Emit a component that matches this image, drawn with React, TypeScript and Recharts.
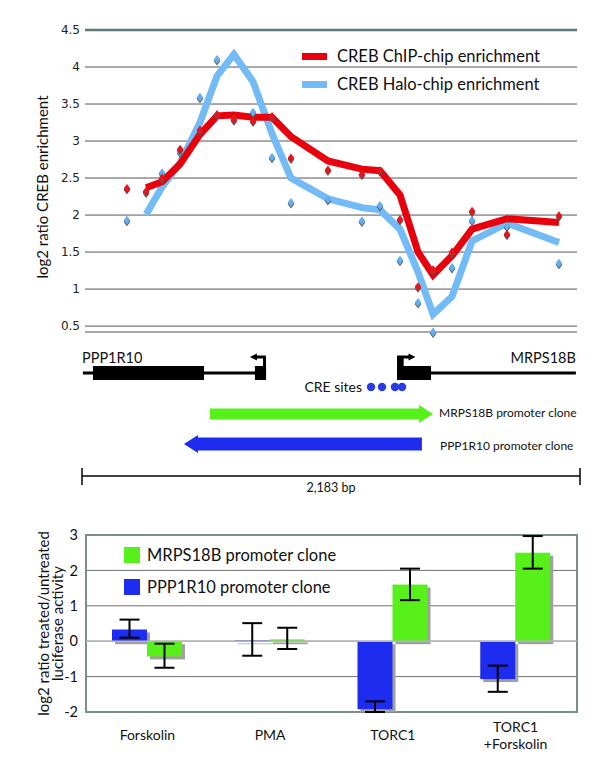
import React from 'react';
import {
  ComposedChart, BarChart, Bar, Line, Scatter, XAxis, YAxis, CartesianGrid,
  Legend, ReferenceLine, ReferenceArea, ReferenceDot, ErrorBar
} from 'recharts';

const FONT = 'Lato, "Noto Sans", sans-serif';

// ---- top panel: tiling enrichment along the locus (bp from left end of scale bar)
const probeBp = [197, 281, 351, 430, 517, 592, 666, 750, 833, 916, 1078, 1227, 1306, 1394, 1473, 1539, 1622, 1710, 1863, 2091];
const chipLine = [null, 2.37, 2.45, 2.69, 3.09, 3.34, 3.35, 3.32, 3.32, 3.06, 2.73, 2.62, 2.6, 2.27, 1.5, 1.19, 1.45, 1.81, 1.95, 1.9];
const haloLine = [null, 2.01, 2.38, 2.7, 3.25, 3.88, 4.17, 3.8, 3.1, 2.5, 2.22, 2.1, 2.07, 1.81, 1.23, 0.66, 0.9, 1.65, 1.89, 1.63];
const chipPts = [2.36, 2.32, 2.5, 2.89, 3.15, 3.36, 3.29, 3.27, 3.33, 2.77, 2.61, 2.55, 2.6, 1.94, 1.03, 1.26, 1.5, 2.05, 1.74, 1.99];
const haloPts = [1.93, 2.31, 2.57, 2.85, 3.59, 4.1, 3.29, 3.39, 2.78, 2.17, 2.21, 1.92, 2.13, 1.39, 0.82, 0.42, 1.29, 1.93, 1.85, 1.35];
const enrichTicks = [0.5, 1, 1.5, 2, 2.5, 3, 3.5, 4, 4.5];

// ---- gene diagram (bp)
const locusLength = 2183;
const exons = [[48, 535], [758, 807], [1381, 1530]];
const introns = [[4, 802], [1530, 2165]];
const creSites = [1267, 1315, 1372, 1403];
const mrpsClone = [561, 1539];
const pppClone = [447, 1490];

// ---- bottom panel: luciferase
const treatments = ['Forskolin', 'PMA', 'TORC1', 'TORC1\n+Forskolin'];
const pppValues = [0.33, 0.02, -1.92, -1.07];
const pppErr = [[0.23, 0.28], [0.43, 0.49], [0.08, 0.22], [0.36, 0.38]];
const mrpsValues = [-0.43, 0.05, 1.6, 2.5];
const mrpsErr = [[0.32, 0.36], [0.27, 0.33], [0.44, 0.45], [0.45, 0.47]];
const lucTicks = [-2, -1, 0, 1, 2, 3];

const RED = '#e8000c';
const SKY = '#72bbf6';
const GREEN = '#58f01a';
const BLUE = '#1e2cf0';

const enrichData = probeBp.map((bp, i) => ({
  bp, chip: chipLine[i], halo: haloLine[i], chipPt: chipPts[i], haloPt: haloPts[i],
}));
const lucData = treatments.map((t, i) => ({
  name: t, ppp: pppValues[i], pppErr: pppErr[i], mrps: mrpsValues[i], mrpsErr: mrpsErr[i],
}));
const creData = creSites.map(bp => ({ bp, row: 42 }));

const diamond = (color: string) => (p: any) => {
  const { cx, cy } = p;
  if (cx == null || cy == null) return <g />;
  const d = (dx: number, dy: number) =>
    `M${cx + dx},${cy + dy - 4.5} L${cx + dx + 3.3},${cy + dy} L${cx + dx},${cy + dy + 4.5} L${cx + dx - 3.3},${cy + dy} Z`;
  return (
    <g>
      <path d={d(0, 1.5)} fill="#5a5a5a" />
      <path d={d(0, 0)} fill={color} />
    </g>
  );
};

const arrowShape = (dir: 'left' | 'right', head: number, body: number) => (p: any) => {
  const { x, y, width, height, fill } = p;
  const cy = y + height / 2;
  const b = body / 2;
  let pts;
  if (dir === 'right') {
    const hx = x + width - head;
    pts = `${x},${cy - b} ${hx},${cy - b} ${hx},${y} ${x + width},${cy} ${hx},${y + height} ${hx},${cy + b} ${x},${cy + b}`;
  } else {
    const hx = x + head;
    pts = `${x + width},${cy - b} ${hx},${cy - b} ${hx},${y} ${x},${cy} ${hx},${y + height} ${hx},${cy + b} ${x + width},${cy + b}`;
  }
  return <polygon points={pts} fill={fill} />;
};

const ShadowBar = (p: any) => {
  const { x, y, width, height, fill } = p;
  const top = height < 0 ? y + height : y;
  const h = Math.abs(height);
  return (
    <g>
      <rect x={x + 3} y={top + 3} width={width} height={h} fill="#a0a0a0" />
      <rect x={x} y={top} width={width} height={h} fill={fill} />
    </g>
  );
};

// rotated axis title, one or more lines
const VTitle = ({ viewBox, lines, dx, dy, size, gap = 13 }: any) => {
  const cy = viewBox.y + viewBox.height / 2 + dy;
  return (
    <g>
      {lines.map((t: string, i: number) => {
        const cx = viewBox.x + dx + i * gap;
        return (
          <text key={i} x={cx} y={cy} transform={`rotate(-90 ${cx} ${cy})`} textAnchor="middle"
            dominantBaseline="central" fontFamily={FONT} fontSize={size} fill="#111">{t}</text>
        );
      })}
    </g>
  );
};

const CatTick = ({ x, y, payload }: any) => {
  const lines = String(payload.value).split('\n');
  return (
    <g>
      {lines.map((t, i) => (
        <text key={i} x={x} y={lines.length > 1 ? y + 20 + i * 17 : y + 28} textAnchor="middle"
          fontFamily={FONT} fontSize={14} fill="#111">{t}</text>
      ))}
    </g>
  );
};

const LineLegend = ({ payload }: any) => (
  <div style={{ fontFamily: FONT, fontSize: 16.5, color: '#111' }}>
    {(payload || []).filter((e: any) => e.type !== 'none').map((e: any) => (
      <div key={e.value} style={{ display: 'flex', alignItems: 'center', height: 28 }}>
        <span style={{ display: 'inline-block', width: 25, height: 7, background: e.color, marginRight: 10 }} />
        {e.value}
      </div>
    ))}
  </div>
);

const BarLegend = ({ payload }: any) => (
  <div style={{ fontFamily: FONT, fontSize: 16.5, color: '#111' }}>
    {(payload || []).map((e: any) => (
      <div key={e.value} style={{ display: 'flex', alignItems: 'center', height: 32 }}>
        <span style={{ display: 'inline-block', width: 16, height: 16, background: e.color, marginRight: 7 }} />
        {e.value}
      </div>
    ))}
  </div>
);

const geneLabel = (value: string, position: any, size: number) => ({
  value, position, offset: 0, fontFamily: FONT, fontSize: size, fill: '#111',
});

export default function App() {
  return (
    <div style={{ position: 'absolute', left: 0, top: 0, width: 600, height: 773, background: '#fff' }}>
      {/* enrichment profile */}
      <div style={{ position: 'absolute', left: 0, top: 0 }}>
        <ComposedChart width={600} height={345} data={enrichData}
          margin={{ top: 30, right: 23, bottom: 13, left: 35 }}>
          <CartesianGrid vertical={false} stroke="#555" />
          <XAxis type="number" dataKey="bp" domain={[13, 2170]} hide />
          <YAxis domain={[0.5, 4.5]} ticks={enrichTicks} width={50} axisLine={false} tickLine={false}
            tickSize={0} tickMargin={5} interval={0}
            tick={{ fontFamily: 'DejaVu Sans', fontSize: 12, fill: '#222' }}
            label={{ content: (p: any) => <VTitle viewBox={p.viewBox} lines={['log2 ratio CREB enrichment']} dx={7} dy={6} size={15} /> }} />
          <ReferenceLine y={4.5} stroke="#5f7777" strokeWidth={2.5} />
          <Line dataKey="halo" name="CREB Halo-chip enrichment" stroke={SKY} strokeWidth={7} dot={false}
            type="linear" isAnimationActive={false} />
          <Line dataKey="chip" name="CREB ChIP-chip enrichment" stroke={RED} strokeWidth={7} dot={false}
            type="linear" isAnimationActive={false} />
          <Scatter dataKey="haloPt" legendType="none" shape={diamond('#62aef0')} isAnimationActive={false} />
          <Scatter dataKey="chipPt" legendType="none" shape={diamond('#e6141c')} isAnimationActive={false} />
          <Legend layout="vertical" align="center" verticalAlign="middle"
            wrapperStyle={{ left: 302, top: 42, width: 280 }}
            content={(p: any) => <LineLegend payload={p.payload} />} />
        </ComposedChart>
      </div>

      {/* gene structure */}
      <div style={{ position: 'absolute', left: 0, top: 345 }}>
        <ComposedChart width={600} height={160} data={creData}
          margin={{ top: 0, right: 20, bottom: 0, left: 82 }}>
          <XAxis type="number" dataKey="bp" domain={[0, locusLength]} hide />
          <YAxis type="number" dataKey="row" domain={[0, 160]} reversed hide />
          {introns.map(([a, b]) => (
            <ReferenceLine key={a} segment={[{ x: a, y: 28 }, { x: b, y: 28 }]} stroke="#000" strokeWidth={3} />
          ))}
          {exons.map(([a, b]) => (
            <ReferenceArea key={a} x1={a} x2={b} y1={21} y2={35} fill="#000" fillOpacity={1} />
          ))}
          <ReferenceArea x1={1381} x2={1410} y1={11} y2={35} fill="#000" fillOpacity={1} />
          <ReferenceLine segment={[{ x: 800, y: 21 }, { x: 800, y: 12 }]} stroke="#000" strokeWidth={3} />
          <ReferenceArea x1={736} x2={806} y1={8.5} y2={15.5} fill="#000" fillOpacity={1}
            shape={arrowShape('left', 7, 3)} />
          <ReferenceArea x1={1381} x2={1462} y1={8.5} y2={15.5} fill="#000" fillOpacity={1}
            shape={arrowShape('right', 7, 3)} />
          <ReferenceDot x={0} y={13} r={0} label={geneLabel('PPP1R10', 'right', 14.5)} />
          <ReferenceDot x={2165} y={13} r={0} label={geneLabel('MRPS18B', 'left', 14.5)} />
          <Scatter dataKey="row" fill="#2a3ce6" shape={(p: any) => <circle cx={p.cx} cy={p.cy} r={4.2} fill="#2a3ce6" />}
            isAnimationActive={false} />
          <ReferenceDot x={creSites[0]} y={42} r={0} label={{ ...geneLabel('CRE sites', 'left', 14), offset: 9 }} />
          <ReferenceArea x1={mrpsClone[0]} x2={mrpsClone[1]} y1={60} y2={78} fill={GREEN} fillOpacity={1}
            shape={arrowShape('right', 14, 11)} />
          <ReferenceDot x={1565} y={68} r={0} label={geneLabel('MRPS18B promoter clone', 'right', 12)} />
          <ReferenceArea x1={pppClone[0]} x2={pppClone[1]} y1={90} y2={108} fill={BLUE} fillOpacity={1}
            shape={arrowShape('left', 14, 13)} />
          <ReferenceDot x={1569} y={101} r={0} label={geneLabel('PPP1R10 promoter clone', 'right', 12)} />
          <ReferenceLine segment={[{ x: 0, y: 131 }, { x: locusLength, y: 131 }]} stroke="#000" strokeWidth={1.5} />
          <ReferenceLine segment={[{ x: 0, y: 123 }, { x: 0, y: 140 }]} stroke="#000" strokeWidth={1.5} />
          <ReferenceLine segment={[{ x: locusLength, y: 123 }, { x: locusLength, y: 140 }]} stroke="#000" strokeWidth={1.5} />
          <ReferenceDot x={locusLength / 2} y={143} r={0} label={geneLabel('2,183 bp', 'center', 12.5)} />
        </ComposedChart>
      </div>

      {/* luciferase assay */}
      <div style={{ position: 'absolute', left: 0, top: 505 }}>
        <BarChart width={600} height={268} data={lucData} barSize={35} barGap={0}
          margin={{ top: 30, right: 23, bottom: 21, left: 46 }}>
          <CartesianGrid vertical={false} stroke="#707070" />
          <XAxis dataKey="name" height={40} axisLine={false} tickLine={false} tickSize={0} tickMargin={0}
            interval={0} tick={<CatTick />} />
          <YAxis domain={[-2, 3]} ticks={lucTicks} allowDataOverflow width={40} axisLine={false}
            tickLine={false} tickSize={0} tickMargin={8} interval={0}
            tick={{ fontFamily: FONT, fontSize: 14.5, fill: '#111' }}
            label={{ content: (p: any) => <VTitle viewBox={p.viewBox} lines={['log2 ratio treated/untreated', 'luciferase activity']} dx={-3} dy={0} size={15} gap={14} /> }} />
          <ReferenceLine y={0} stroke="#b5b5b5" strokeWidth={1.5} />
          <Bar dataKey="ppp" name="PPP1R10 promoter clone" fill={BLUE} shape={<ShadowBar />} isAnimationActive={false}>
            <ErrorBar dataKey="pppErr" width={10} stroke="#000" strokeWidth={2} />
          </Bar>
          <Bar dataKey="mrps" name="MRPS18B promoter clone" fill={GREEN} shape={<ShadowBar />} isAnimationActive={false}>
            <ErrorBar dataKey="mrpsErr" width={10} stroke="#000" strokeWidth={2} />
          </Bar>
          <ReferenceArea y1={-2} y2={3} fill="none" stroke="#7d8b8b" strokeWidth={2} ifOverflow="visible" />
          <Legend layout="vertical" align="center" verticalAlign="middle"
            wrapperStyle={{ left: 124, top: 34, width: 300 }}
            content={(p: any) => <BarLegend payload={p.payload} />} />
        </BarChart>
      </div>
    </div>
  );
}
